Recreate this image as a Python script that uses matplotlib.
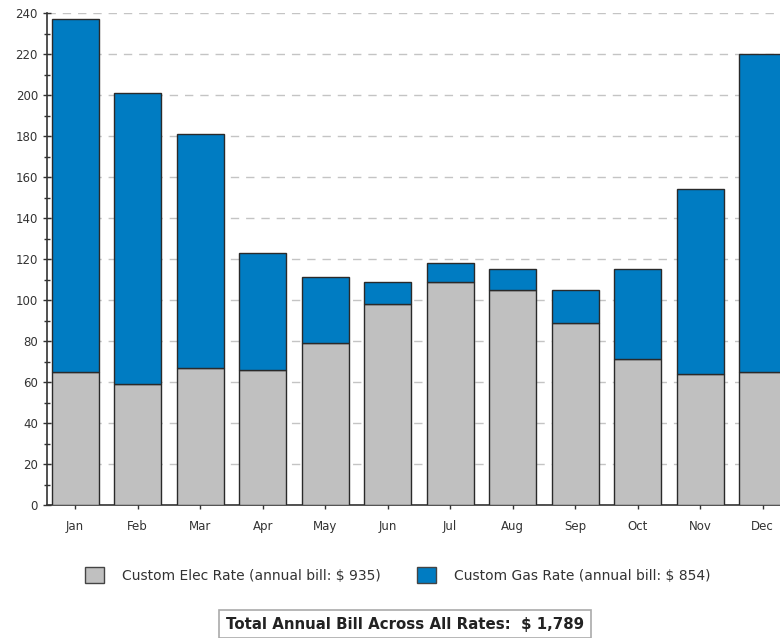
import matplotlib
matplotlib.use('Agg')
import matplotlib.pyplot as plt
from matplotlib.patches import Patch
from matplotlib.ticker import MultipleLocator

months = ['Jan', 'Feb', 'Mar', 'Apr', 'May', 'Jun', 'Jul', 'Aug', 'Sep', 'Oct', 'Nov', 'Dec']
elec = [65, 59, 67, 66, 79, 98, 109, 105, 89, 71, 64, 65]
gas = [172, 142, 114, 57, 32, 11, 9, 10, 16, 44, 90, 155]
elec_label = 'Custom Elec Rate (annual bill: $ 935)'
gas_label = 'Custom Gas Rate (annual bill: $ 854)'
total_text = 'Total Annual Bill Across All Rates:  $ 1,789'

GRAY = '#c0c0c0'
BLUE = '#007cc2'
EDGE = '#2a2a2a'

fig = plt.figure(figsize=(7.8, 6.38), dpi=100)
# axes runs past the right edge, like the cropped original
ax = fig.add_axes([47 / 780, 1 - 505 / 638, 747 / 780, 492 / 638])

x = list(range(len(months)))
ax.bar(x, elec, width=0.75, color=GRAY, edgecolor=EDGE, linewidth=1.0, zorder=3)
ax.bar(x, gas, bottom=elec, width=0.75, color=BLUE, edgecolor=EDGE, linewidth=1.0, zorder=3)

ax.set_xlim(-0.45, 11.5)
ax.set_ylim(0, 240)
ax.yaxis.set_major_locator(MultipleLocator(20))
ax.yaxis.set_minor_locator(MultipleLocator(10))
ax.set_xticks(x)
ax.set_xticklabels(months)

ax.grid(axis='y', which='major', linestyle=(0, (6, 5)), color='#c4c4c4', linewidth=1.0, zorder=0)
for s in ['top', 'right']:
    ax.spines[s].set_visible(False)
ax.spines['left'].set_color('#333333')
ax.spines['bottom'].set_color('#333333')
ax.spines['left'].set_linewidth(1.2)
ax.spines['bottom'].set_linewidth(1.2)

ax.tick_params(axis='y', which='major', direction='inout', length=6, width=1, colors='#333333',
               labelsize=8.5, labelcolor='#333333')
ax.tick_params(axis='y', which='minor', direction='inout', length=4, width=1, colors='#333333')
ax.tick_params(axis='x', direction='out', length=3, width=1, colors='#333333',
               labelsize=8.5, labelcolor='#333333', pad=8)

handles = [Patch(facecolor=GRAY, edgecolor='#444444', label=elec_label),
           Patch(facecolor=BLUE, edgecolor='#444444', label=gas_label)]
fig.legend(handles=handles, loc='center', bbox_to_anchor=(0.51, 1 - 575 / 638), ncol=2,
           frameon=False, fontsize=10, handlelength=1.4, handleheight=1.4,
           columnspacing=2.6, handletextpad=1.3, labelcolor='#333333')

fig.text(0.519, 1 - 624 / 638, total_text, ha='center', va='center', fontsize=10.8,
         fontweight='bold', color='#222222',
         bbox=dict(boxstyle='square,pad=0.45', facecolor='white', edgecolor='#aaaaaa', linewidth=1.2))

fig.savefig('out.png', dpi=100)
